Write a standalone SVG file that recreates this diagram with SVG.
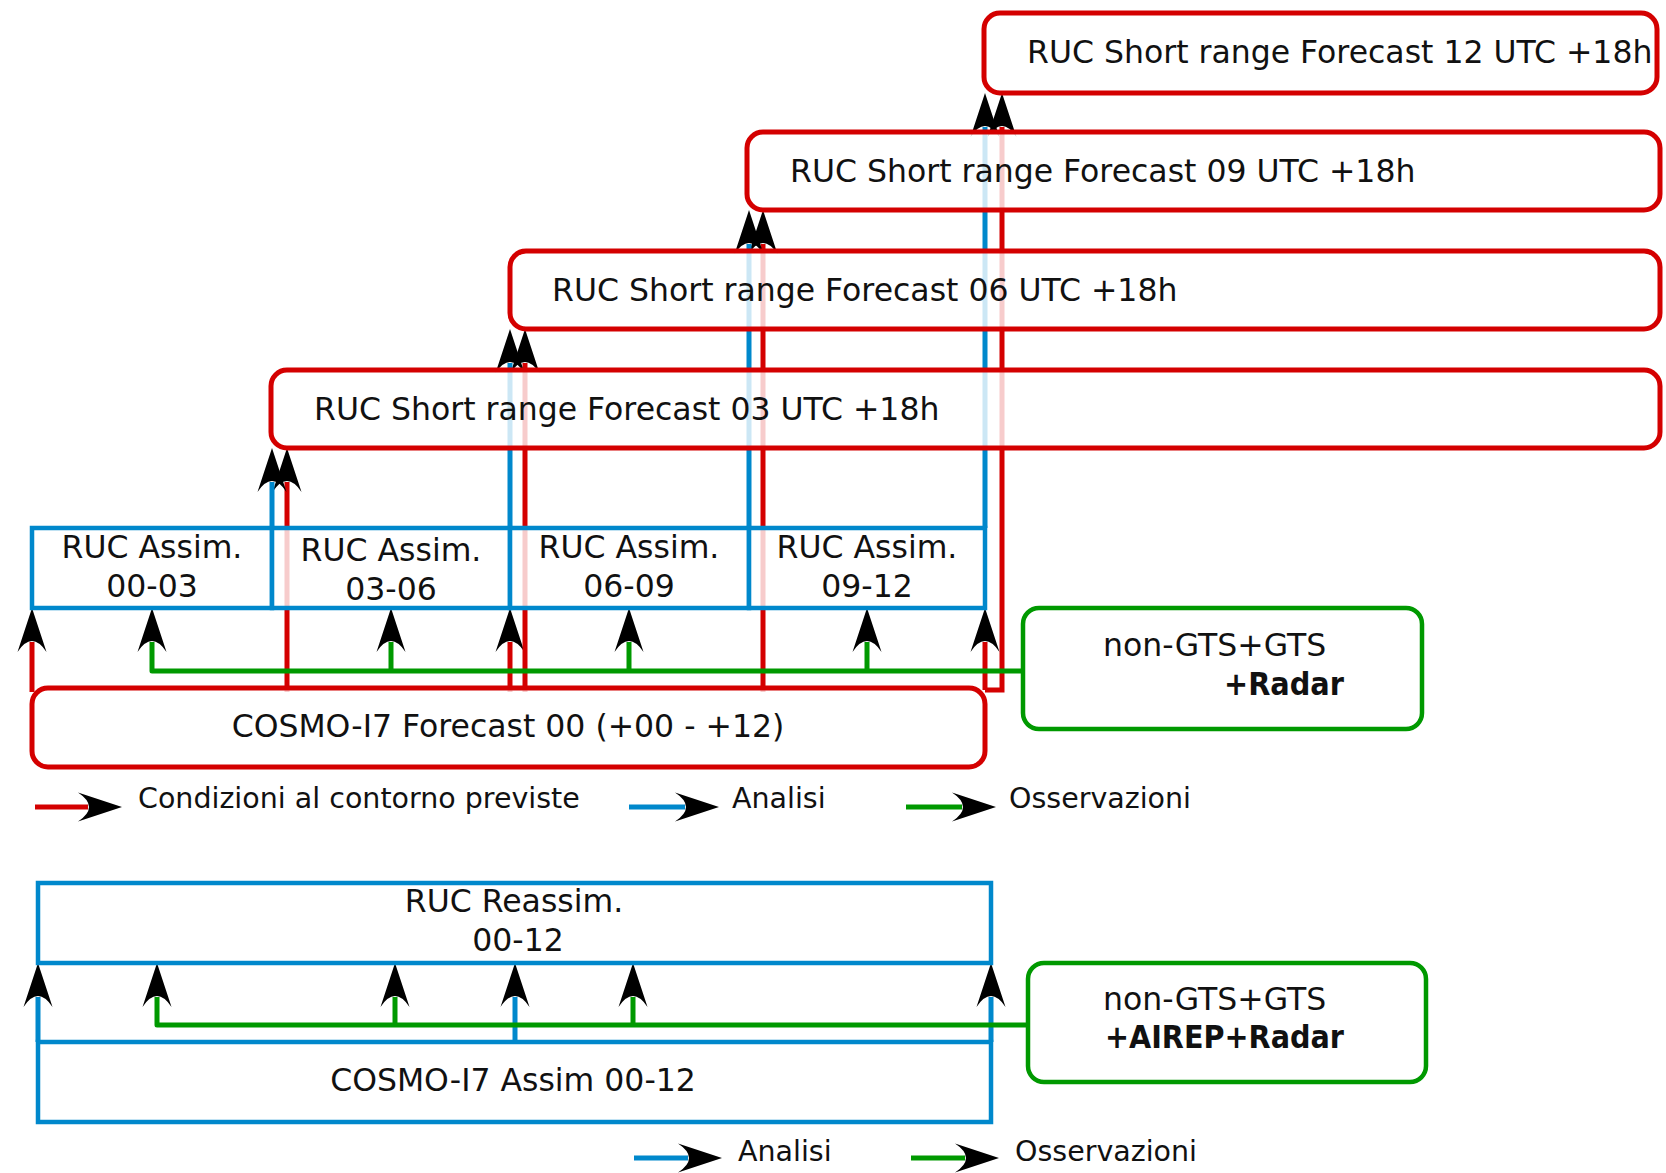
<svg xmlns="http://www.w3.org/2000/svg" width="1666" height="1173" viewBox="0 0 1666 1173">
<style>
.r{fill:none;stroke:#d40000;stroke-width:5}
.b{fill:none;stroke:#0088cc;stroke-width:5}
.g{fill:none;stroke:#009900;stroke-width:5;stroke-linejoin:round}
.a{marker-end:url(#ah)}
.fb{fill:#fff;fill-opacity:0.8;stroke:#d40000;stroke-width:5}
.ab{fill:#fff;fill-opacity:0.8;stroke:#0088cc;stroke-width:4.5}
.ob{fill:#fff;stroke:#009900;stroke-width:4.5}
text{font-family:"DejaVu Sans","Liberation Sans",sans-serif;font-size:31.5px;fill:#111}
.c{text-anchor:middle}
.bd{font-weight:bold}
.lg{font-size:28.5px}
</style>
<defs>
<marker id="ah" markerUnits="userSpaceOnUse" markerWidth="60" markerHeight="40" viewBox="-15 -20 60 40" refX="0" refY="0" orient="auto" overflow="visible">
<path d="M34,0 L-10,-14.5 Q12,0 -10,14.5 Z" fill="#000"/>
</marker>
</defs>
<rect width="1666" height="1173" fill="#fff"/>
<g id="connectors">
<path class="r a" d="M32,692 V642"/>
<path class="r a" d="M287,692 V482"/>
<path class="r a" d="M510,692 V642"/>
<path class="r a" d="M525,692 V363"/>
<path class="r a" d="M763,692 V244"/>
<path class="r a" d="M985,690 V642"/>
<path class="r a" d="M985,690 H1002 V127"/>
<path class="b a" d="M272,528 V482"/>
<path class="b a" d="M510,528 V363"/>
<path class="b a" d="M749,528 V244"/>
<path class="b a" d="M985,528 V127"/>
<path class="g a" d="M1023,671 H152 V642"/>
<path class="g a" d="M391,671 V642"/>
<path class="g a" d="M629,671 V642"/>
<path class="g a" d="M867,671 V642"/>
<path class="b a" d="M38,1042 V997"/>
<path class="b a" d="M515,1042 V997"/>
<path class="b a" d="M991,1042 V997"/>
<path class="g a" d="M1028,1025 H157 V997"/>
<path class="g a" d="M395,1025 V997"/>
<path class="g a" d="M633,1025 V997"/>
<path class="r a" d="M35,807 H88"/>
<path class="b a" d="M629,807 H685"/>
<path class="g a" d="M906,807 H962"/>
<path class="b a" d="M634,1158 H688"/>
<path class="g a" d="M911,1158 H965"/>
</g>
<g id="fc03"><rect class="fb" x="271" y="370" width="1389" height="78" rx="16"/><text x="314" y="420">RUC Short range Forecast 03 UTC +18h</text></g>
<g id="fc06"><rect class="fb" x="510" y="251" width="1150" height="78" rx="16"/><text x="552" y="301">RUC Short range Forecast 06 UTC +18h</text></g>
<g id="fc09"><rect class="fb" x="747" y="132" width="913" height="78" rx="16"/><text x="790" y="182">RUC Short range Forecast 09 UTC +18h</text></g>
<g id="fc12"><rect class="fb" x="984" y="13" width="673" height="80" rx="16"/><text x="1027" y="63">RUC Short range Forecast 12 UTC +18h</text></g>
<g id="as0003"><rect class="ab" x="32" y="528" width="240" height="80"/><text class="c" x="152" y="558">RUC Assim.</text><text class="c" x="152" y="597">00-03</text></g>
<g id="as0306"><rect class="ab" x="272" y="528" width="238" height="80"/><text class="c" x="391" y="561">RUC Assim.</text><text class="c" x="391" y="600">03-06</text></g>
<g id="as0609"><rect class="ab" x="510" y="528" width="239" height="80"/><text class="c" x="629" y="558">RUC Assim.</text><text class="c" x="629" y="597">06-09</text></g>
<g id="as0912"><rect class="ab" x="749" y="528" width="236" height="80"/><text class="c" x="867" y="558">RUC Assim.</text><text class="c" x="867" y="597">09-12</text></g>
<g id="cosmofc"><rect class="fb" x="32" y="688" width="953" height="79" rx="16" fill-opacity="1"/><text class="c" x="508" y="737">COSMO-I7 Forecast 00 (+00 - +12)</text></g>
<g id="obs1"><rect class="ob" x="1023" y="608" width="399" height="121" rx="16"/><text x="1103" y="656">non-GTS+GTS</text><text class="bd" x="1224" y="695" textLength="120" lengthAdjust="spacingAndGlyphs">+Radar</text></g>
<g id="legend1">
<text class="lg" x="138" y="808">Condizioni al contorno previste</text>
<text class="lg" x="732" y="808">Analisi</text>
<text class="lg" x="1009" y="808">Osservazioni</text>
</g>
<g id="reassim"><rect class="ab" x="38" y="883" width="953" height="80"/><text class="c" x="514" y="912">RUC Reassim.</text><text class="c" x="518" y="951">00-12</text></g>
<g id="cosmoas"><rect class="ab" x="38" y="1042" width="953" height="80"/><text class="c" x="513" y="1091">COSMO-I7 Assim 00-12</text></g>
<g id="obs2"><rect class="ob" x="1028" y="963" width="398" height="119" rx="16"/><text x="1103" y="1010">non-GTS+GTS</text><text class="bd" x="1105" y="1048" textLength="239" lengthAdjust="spacingAndGlyphs">+AIREP+Radar</text></g>
<g id="legend2">
<text class="lg" x="738" y="1161">Analisi</text>
<text class="lg" x="1015" y="1161">Osservazioni</text>
</g>
</svg>
